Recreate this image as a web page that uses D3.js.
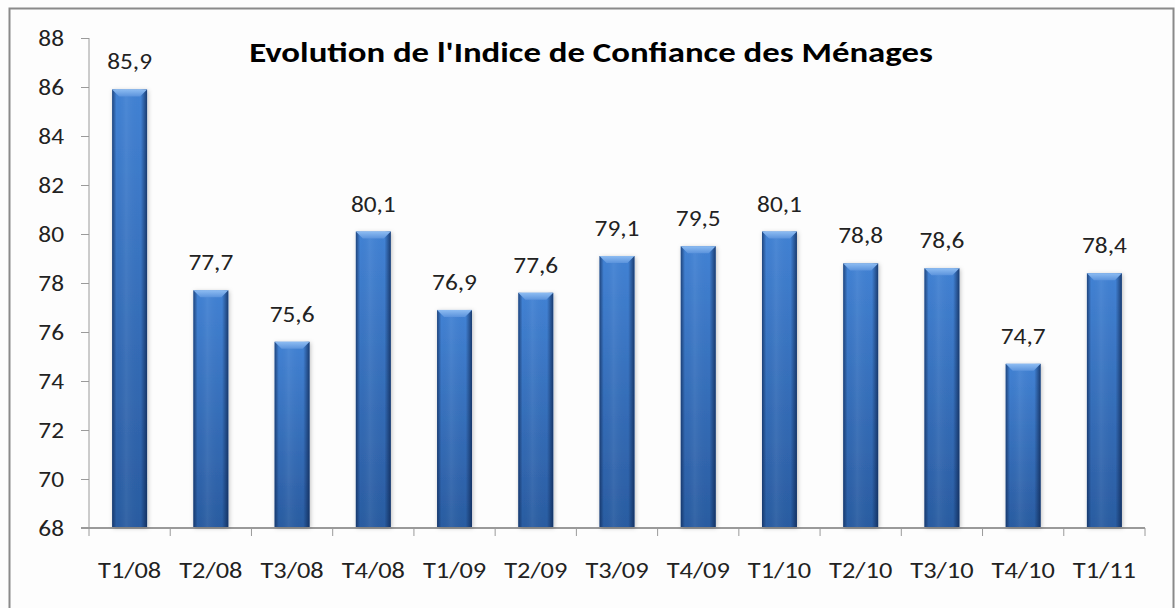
<!DOCTYPE html>
<html>
<head>
<meta charset="utf-8">
<script src="https://cdn.jsdelivr.net/npm/d3@7"></script>
<style>
  html, body { margin: 0; padding: 0; background: #ffffff; }
  .chart text { font-family: Calibri, Carlito, Lato, sans-serif; fill: #222; }
</style>
</head>
<body>
<div class="chart"></div>
<script>
var width = 1175;
var height = 608;

var categories = ["T1/08", "T2/08", "T3/08", "T4/08", "T1/09", "T2/09", "T3/09",
	"T4/09", "T1/10", "T2/10", "T3/10", "T4/10", "T1/11"];
var values = [85.9, 77.7, 75.6, 80.1, 76.9, 77.6, 79.1, 79.5, 80.1, 78.8, 78.6, 74.7, 78.4];
var yTicks = [68, 70, 72, 74, 76, 78, 80, 82, 84, 86, 88];
var title = "Evolution de l'Indice de Confiance des Ménages";

function fmt(v) {
	return v.toFixed(1).replace(".", ",");
}

// the source font is wider than Lato, stretch texts horizontally
function stretch(sel, k) {
	sel.each(function() {
		var w = this.getComputedTextLength();
		d3.select(this)
			.attr("textLength", w * k)
			.attr("lengthAdjust", "spacingAndGlyphs");
	});
}

function draw() {
	var svg = d3.select(".chart").append("svg")
		.attr("width", width)
		.attr("height", height);

	// frame of the chart area
	svg.append("rect")
		.attr("x", 0).attr("y", 0)
		.attr("width", width).attr("height", height)
		.attr("fill", "#fdfdfd");
	svg.append("rect")
		.attr("x", 9.5).attr("y", 8.5)
		.attr("width", 1164).attr("height", 620)
		.attr("fill", "none")
		.attr("stroke", "#8a8a8a")
		.attr("stroke-width", 2);

	var defs = svg.append("defs");
	var vg = defs.append("linearGradient").attr("id", "barV")
		.attr("x1", 0).attr("y1", 0).attr("x2", 0).attr("y2", 1);
	vg.append("stop").attr("offset", "0%").attr("stop-color", "#4282d4");
	vg.append("stop").attr("offset", "100%").attr("stop-color", "#2a5ca1");

	var hg = defs.append("linearGradient").attr("id", "barH")
		.attr("x1", 0).attr("y1", 0).attr("x2", 1).attr("y2", 0);
	hg.append("stop").attr("offset", "0%").attr("stop-color", "#0d2550").attr("stop-opacity", 0.65);
	hg.append("stop").attr("offset", "12%").attr("stop-color", "#0d2550").attr("stop-opacity", 0);
	hg.append("stop").attr("offset", "40%").attr("stop-color", "#ffffff").attr("stop-opacity", 0.06);
	hg.append("stop").attr("offset", "82%").attr("stop-color", "#0d2550").attr("stop-opacity", 0);
	hg.append("stop").attr("offset", "100%").attr("stop-color", "#0d2550").attr("stop-opacity", 0.75);

	var tg = defs.append("linearGradient").attr("id", "barTop")
		.attr("x1", 0).attr("y1", 0).attr("x2", 0).attr("y2", 1);
	tg.append("stop").attr("offset", "0%").attr("stop-color", "#8dbcf2");
	tg.append("stop").attr("offset", "100%").attr("stop-color", "#5b93dc");

	var sh = defs.append("filter").attr("id", "shadow")
		.attr("x", "-30%").attr("y", "-10%").attr("width", "160%").attr("height", "120%");
	sh.append("feDropShadow").attr("dx", 1).attr("dy", 1)
		.attr("stdDeviation", 2).attr("flood-color", "#000").attr("flood-opacity", 0.25);

	var x = d3.scaleBand()
		.domain(categories)
		.range([89, 1145])
		.paddingInner(0.57)
		.paddingOuter(0.285);

	var y = d3.scaleLinear()
		.domain([68, 88])
		.range([528, 38]);

	var data = categories.map(function(c, i) { return {cat: c, val: values[i]}; });

	// y axis
	var yAxis = d3.axisLeft(y)
		.tickValues(yTicks)
		.tickSize(8)
		.tickPadding(17)
		.tickFormat(d3.format("d"));
	var gy = svg.append("g").attr("transform", "translate(89,0)").call(yAxis);
	gy.select(".domain").attr("stroke", "#9a9a9a").attr("d", "M0," + y(88) + "V" + y(68));
	gy.selectAll(".tick line").attr("stroke", "#9a9a9a");
	gy.selectAll(".tick text")
		.attr("font-size", "22px")
		.attr("font-family", "Calibri, Carlito, Lato, sans-serif")
		.attr("fill", "#222")
		.attr("dy", "0.36em")
		.call(stretch, 1.15);

	// x axis: line plus ticks at category boundaries
	var step = x.step();
	var bounds = categories.map(function(c) { return x(c) - (step - x.bandwidth()) / 2; });
	bounds.push(x.range()[1]);
	svg.append("line")
		.attr("x1", 81).attr("x2", x.range()[1])
		.attr("y1", y(68)).attr("y2", y(68))
		.attr("stroke", "#9a9a9a").attr("stroke-width", 2);
	svg.append("g").selectAll("line").data(bounds).enter().append("line")
		.attr("x1", function(d) { return d; })
		.attr("x2", function(d) { return d; })
		.attr("y1", y(68)).attr("y2", y(68) + 8)
		.attr("stroke", "#9a9a9a");

	var xAxis = d3.axisBottom(x).tickSize(0).tickPadding(0);
	var gx = svg.append("g").attr("transform", "translate(0," + y(68) + ")").call(xAxis);
	gx.select(".domain").remove();
	gx.selectAll(".tick text")
		.attr("y", 42)
		.attr("dy", "0.36em")
		.attr("font-size", "22px")
		.attr("font-family", "Calibri, Carlito, Lato, sans-serif")
		.attr("fill", "#222")
		.call(stretch, 1.2);

	// bars
	var bars = svg.append("g").selectAll("g").data(data).enter().append("g");
	bars.append("rect")
		.attr("x", function(d) { return x(d.cat); })
		.attr("y", function(d) { return y(d.val); })
		.attr("width", x.bandwidth())
		.attr("height", function(d) { return y(68) - y(d.val) - 1; })
		.attr("fill", "url(#barV)")
		.attr("filter", "url(#shadow)");
	bars.append("rect")
		.attr("x", function(d) { return x(d.cat); })
		.attr("y", function(d) { return y(d.val); })
		.attr("width", x.bandwidth())
		.attr("height", function(d) { return y(68) - y(d.val) - 1; })
		.attr("fill", "url(#barH)");
	bars.append("path")
		.attr("d", function(d) {
			var x0 = x(d.cat), x1 = x0 + x.bandwidth(), t = y(d.val), b = 7;
			return "M" + x0 + "," + t + "L" + x1 + "," + t +
				"L" + (x1 - b) + "," + (t + b) + "L" + (x0 + b) + "," + (t + b) + "Z";
		})
		.attr("fill", "url(#barTop)");

	// value labels
	svg.append("g").selectAll("text").data(data).enter().append("text")
		.attr("x", function(d) { return x(d.cat) + x.bandwidth() / 2; })
		.attr("y", function(d) { return y(d.val) - 20; })
		.attr("text-anchor", "middle")
		.attr("font-size", "22px")
		.text(function(d) { return fmt(d.val); })
		.call(stretch, 1.15);

	// title
	svg.append("text")
		.attr("x", 591)
		.attr("y", 62)
		.attr("text-anchor", "middle")
		.attr("font-size", "29px")
		.attr("font-weight", "bold")
		.style("fill", "#000")
		.text(title)
		.call(stretch, 1.2);
}

draw();
</script>
</body>
</html>
